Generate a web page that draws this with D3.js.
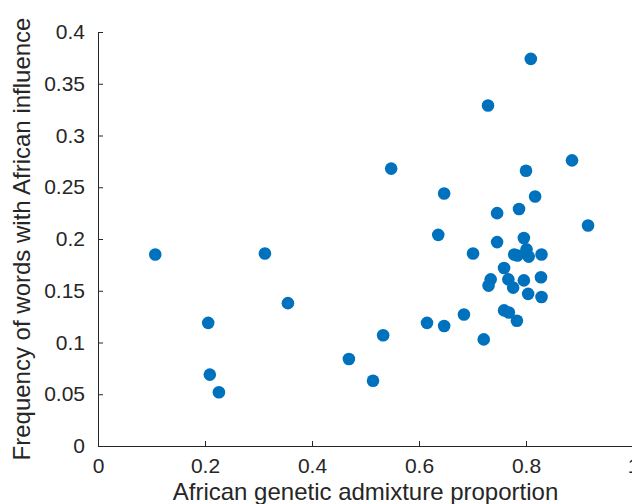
<!DOCTYPE html>
<html>
<head>
<meta charset="utf-8">
<script src="https://cdn.jsdelivr.net/npm/d3@7"></script>
<style>
  body { margin: 0; background: #fff; }
  text { font-family: "Liberation Sans", Arial, Helvetica, sans-serif; fill: #262626; }
</style>
</head>
<body>
<div id="chart"></div>
<script>
// admixture proportion (x) and word frequency (y)
var admixture = [0.107, 0.206, 0.209, 0.226, 0.312, 0.355, 0.469, 0.514, 0.533, 0.548,
                 0.615, 0.636, 0.647, 0.647, 0.684, 0.701, 0.721, 0.729, 0.730, 0.734,
                 0.746, 0.746, 0.759, 0.759, 0.768, 0.767, 0.776, 0.778, 0.784, 0.787,
                 0.796, 0.796, 0.801, 0.805, 0.800, 0.804, 0.809, 0.817, 0.828, 0.829,
                 0.829, 0.886, 0.916, 0.783];
var frequency = [0.185, 0.119, 0.069, 0.052, 0.186, 0.138, 0.084, 0.063, 0.107, 0.268,
                 0.119, 0.204, 0.116, 0.244, 0.127, 0.186, 0.103, 0.329, 0.155, 0.161,
                 0.225, 0.197, 0.172, 0.131, 0.129, 0.161, 0.153, 0.185, 0.184, 0.229,
                 0.201, 0.160, 0.190, 0.183, 0.266, 0.147, 0.374, 0.241, 0.163, 0.185,
                 0.144, 0.276, 0.213, 0.121];

var xTicks = [0, 0.2, 0.4, 0.6, 0.8, 1];
var yTicks = [0, 0.05, 0.1, 0.15, 0.2, 0.25, 0.3, 0.35, 0.4];

var width = 632, height = 504;
var x = d3.scaleLinear().domain([0, 1]).range([98, 633]);
var y = d3.scaleLinear().domain([0, 0.4]).range([446, 32]);

var svg = d3.select('#chart').append('svg')
    .attr('width', width)
    .attr('height', height);

var xAxis = svg.append('g')
    .attr('transform', 'translate(0,' + y(0) + ')')
    .call(d3.axisBottom(x).tickValues(xTicks).tickSizeInner(-5).tickSizeOuter(0)
          .tickPadding(12).tickFormat(d3.format('~g')));

var yAxis = svg.append('g')
    .attr('transform', 'translate(' + x(0) + ',0)')
    .call(d3.axisLeft(y).tickValues(yTicks).tickSizeInner(-5).tickSizeOuter(0)
          .tickPadding(13).tickFormat(d3.format('~g')));

[xAxis, yAxis].forEach(function(a){
  a.selectAll('path, line').attr('stroke', '#262626').attr('stroke-width', 1);
  a.selectAll('text').style('font-size', '21px').attr('fill', '#262626');
});
xAxis.selectAll('text').attr('dy', '0.71em');

svg.append('g')
    .selectAll('circle')
    .data(admixture.map(function(d, i){ return [d, frequency[i]]; }))
    .enter().append('circle')
    .attr('cx', function(d){ return x(d[0]); })
    .attr('cy', function(d){ return y(d[1]); })
    .attr('r', 6.3)
    .attr('fill', '#0072BD');

svg.append('text')
    .attr('x', (x(0) + x(1)) / 2)
    .attr('y', 500)
    .attr('text-anchor', 'middle')
    .style('font-size', '24px')
    .text('African genetic admixture proportion');

svg.append('text')
    .attr('transform', 'translate(30,' + (y(0) + y(0.4)) / 2 + ') rotate(-90)')
    .attr('text-anchor', 'middle')
    .style('font-size', '24px')
    .text('Frequency of words with African influence');
</script>
</body>
</html>
